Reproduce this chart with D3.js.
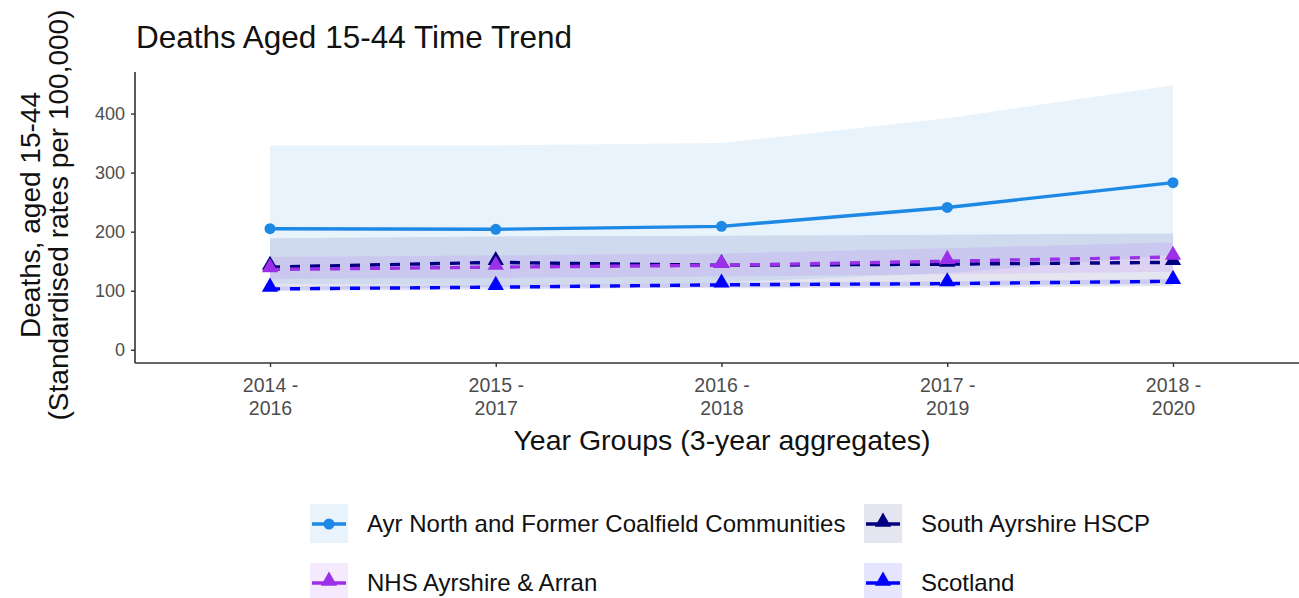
<!DOCTYPE html>
<html>
<head>
<meta charset="utf-8">
<script src="https://cdn.jsdelivr.net/npm/d3@7"></script>
<style>
  body { margin: 0; background: #fff; }
  svg { font-family: "Liberation Sans", Arial, sans-serif; }
</style>
</head>
<body>
<div class="chart"></div>
<script>
const periods = ["2014 - 2016", "2015 - 2017", "2016 - 2018", "2017 - 2019", "2018 - 2020"];
const yTicks = [0, 100, 200, 300, 400];

// Ayr North and Former Coalfield Communities
const ayrRate = [205, 204, 209, 241, 283];
const ayrLower = [112, 110, 114, 130, 160];
const ayrUpper = [346, 346, 350, 392, 448];
// South Ayrshire HSCP
const saRate = [140, 148, 143, 145, 148];
const saLower = [101, 106, 104, 105, 108];
const saUpper = [189, 192, 193, 195, 197];
// NHS Ayrshire & Arran
const nhsRate = [136, 140, 143, 150, 157];
const nhsLower = [120, 122, 124, 128, 132];
const nhsUpper = [157, 160, 163, 172, 182];
// Scotland
const scoRate = [103, 106, 110, 112, 116];
const scoLower = [99, 102, 106, 108, 112];
const scoUpper = [107, 110, 114, 116, 120];

const series = [
  {name: "Ayr North and Former Coalfield Communities", rate: ayrRate, lo: ayrLower, hi: ayrUpper, color: "#1e88e5", dash: null, shape: "circle"},
  {name: "South Ayrshire HSCP", rate: saRate, lo: saLower, hi: saUpper, color: "#000080", dash: "10,10", shape: "triangle"},
  {name: "NHS Ayrshire & Arran", rate: nhsRate, lo: nhsLower, hi: nhsUpper, color: "#9b30e8", dash: "10,10", shape: "triangle"},
  {name: "Scotland", rate: scoRate, lo: scoLower, hi: scoUpper, color: "#0000ff", dash: "10,10", shape: "triangle"}
];

const width = 1299, height = 598;
const plotLeft = 135, plotRight = 1299, plotTop = 72, plotBottom = 363;

const svg = d3.select(".chart").append("svg")
  .attr("width", width)
  .attr("height", height);

const x = d3.scalePoint().domain(periods).range([270, 1173]);
const y = d3.scaleLinear().domain([-22.4, 470.4]).range([plotBottom, plotTop]);

// ribbons
const area = d3.area()
  .x((d, i) => x(periods[i]))
  .y0(d => y(d[0]))
  .y1(d => y(d[1]));

series.forEach(s => {
  svg.append("path")
    .datum(s.lo.map((v, i) => [v, s.hi[i]]))
    .attr("d", area)
    .attr("fill", s.color)
    .attr("fill-opacity", 0.1);
});

// lines
const line = d3.line()
  .x((d, i) => x(periods[i]))
  .y(d => y(d));

const tri = d3.symbol().type(d3.symbolTriangle).size(115);

series.forEach(s => {
  svg.append("path")
    .datum(s.rate)
    .attr("d", line)
    .attr("fill", "none")
    .attr("stroke", s.color)
    .attr("stroke-width", 3.4)
    .attr("stroke-dasharray", s.dash);
  if (s.shape === "circle") {
    svg.selectAll(null)
      .data(s.rate)
      .join("circle")
      .attr("cx", (d, i) => x(periods[i]))
      .attr("cy", d => y(d))
      .attr("r", 5.5)
      .attr("fill", s.color);
  } else {
    svg.selectAll(null)
      .data(s.rate)
      .join("path")
      .attr("d", tri)
      .attr("transform", (d, i) => `translate(${x(periods[i])},${y(d) - 2})`)
      .attr("fill", s.color);
  }
});

// axes
const yAxis = svg.append("g")
  .attr("transform", `translate(${plotLeft},0)`)
  .call(d3.axisLeft(y).tickValues(yTicks).tickSize(4).tickPadding(6));
yAxis.select(".domain").attr("d", `M0,${plotTop}V${plotBottom}`).attr("stroke", "#333").attr("stroke-width", 1.6);
yAxis.selectAll(".tick line").attr("stroke", "#333").attr("stroke-width", 1.4);
yAxis.selectAll(".tick text").attr("fill", "#4d4d4d").style("font-size", "18px");

const xAxis = svg.append("g")
  .attr("transform", `translate(0,${plotBottom})`)
  .call(d3.axisBottom(x).tickSize(4).tickPadding(4));
xAxis.select(".domain").attr("d", `M${plotLeft},0H${plotRight}`).attr("stroke", "#333").attr("stroke-width", 1.6);
xAxis.selectAll(".tick line").attr("stroke", "#333").attr("stroke-width", 1.4);
xAxis.selectAll(".tick text").remove();
xAxis.selectAll(".tick").append("text")
  .attr("fill", "#4d4d4d")
  .attr("text-anchor", "middle")
  .style("font-size", "19.5px")
  .selectAll("tspan")
  .data(d => [d.split(" - ")[0] + " -", d.split(" - ")[1]])
  .join("tspan")
  .attr("x", 0)
  .attr("y", (d, i) => 29 + i * 23)
  .text(d => d);

// titles
svg.append("text")
  .attr("x", 136).attr("y", 48)
  .style("font-size", "31.5px")
  .attr("fill", "#111")
  .text("Deaths Aged 15-44 Time Trend");

svg.append("text")
  .attr("x", 722).attr("y", 450)
  .attr("text-anchor", "middle")
  .style("font-size", "28.5px")
  .attr("fill", "#111")
  .text("Year Groups (3-year aggregates)");

svg.append("text")
  .attr("transform", "translate(40,215) rotate(-90)")
  .attr("text-anchor", "middle")
  .style("font-size", "28px")
  .attr("fill", "#111")
  .selectAll("tspan")
  .data(["Deaths, aged 15-44", "(Standardised rates per 100,000)"])
  .join("tspan")
  .attr("x", 0)
  .attr("y", (d, i) => i * 28)
  .text(d => d);

// legend
const legendPos = [[310, 504], [864, 504], [310, 563], [864, 563]];
series.forEach((s, j) => {
  const g = svg.append("g").attr("transform", `translate(${legendPos[j][0]},${legendPos[j][1]})`);
  g.append("rect").attr("width", 38).attr("height", 39).attr("fill", "#fff");
  g.append("rect").attr("width", 38).attr("height", 39).attr("fill", s.color).attr("fill-opacity", 0.1);
  g.append("line").attr("x1", 2).attr("x2", 36).attr("y1", 20).attr("y2", 20)
    .attr("stroke", s.color).attr("stroke-width", 3.4);
  if (s.shape === "circle") {
    g.append("circle").attr("cx", 19).attr("cy", 20).attr("r", 5.5).attr("fill", s.color);
  } else {
    g.append("path").attr("d", tri).attr("transform", "translate(19,18)").attr("fill", s.color);
  }
  g.append("text")
    .attr("x", 57).attr("y", 28)
    .style("font-size", "24px")
    .attr("fill", "#111")
    .text(s.name);
});
</script>
</body>
</html>
